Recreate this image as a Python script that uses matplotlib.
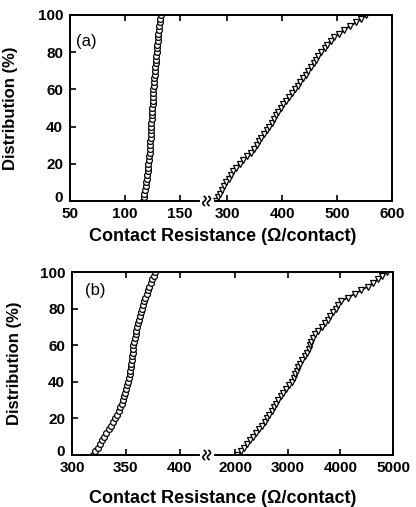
import numpy as np
import matplotlib
matplotlib.use("Agg")
import matplotlib.pyplot as plt
import matplotlib.transforms as mtransforms

plt.rcParams['font.family'] = ['Liberation Sans', 'DejaVu Sans']

# ---- data ----------------------------------------------------------------
pct = [0, 2, 4, 6, 8, 10, 12, 14, 16, 18, 20, 22, 24, 26, 28, 30, 32, 34, 36,
       38, 40, 42, 44, 46, 48, 50, 52, 54, 56, 58, 60, 62, 64, 66, 68, 70, 72,
       74, 76, 78, 80, 82, 84, 86, 88, 90, 92, 94, 96, 98, 100]

# panel (a)
a_circ_x = [116.5, 117.2, 117.8, 118.2, 118.9, 119.4, 119.8, 120.3, 120.8,
            121.2, 121.5, 121.8, 122.1, 122.5, 122.8, 123.0, 123.2, 123.4,
            123.6, 123.8, 124.0, 124.2, 124.4, 124.6, 124.8, 125.0, 125.2,
            125.4, 125.6, 125.8, 126.0, 126.3, 126.6, 126.9, 127.2, 127.5,
            127.8, 128.1, 128.4, 128.7, 129.0, 129.3, 129.6, 129.9, 130.2,
            130.5, 130.9, 131.3, 131.7, 132.1, 132.5]
a_tri_x = [279, 283, 287, 291, 294, 298, 302, 306, 311, 316, 322, 329, 336,
           343, 348, 353, 358, 362, 367, 372, 376, 381, 385, 389, 393, 398,
           402, 407, 412, 418, 423, 428, 433, 438, 443, 447, 452, 457, 461,
           466, 471, 477, 482, 488, 495, 504, 513, 523, 535, 544, 552]

# panel (b)
b_circ_x = [319.5, 321.5, 323.7, 326, 328, 330, 332, 334, 336, 338, 340, 342,
            343.5, 345, 346.3, 347.5, 348.5, 349.5, 350.5, 351.4, 352.2,
            352.8, 353.5, 354, 354.6, 355, 355.4, 355.8, 356.2, 356.6, 357,
            357.6, 358.3, 359, 359.8, 360.5, 361.3, 362.1, 362.9, 363.8,
            364.6, 365.5, 366.5, 367.8, 369.2, 370.5, 371.8, 373.2, 374.5,
            375.8, 377]
b_tri_x = [2040, 2110, 2170, 2230, 2285, 2340, 2400, 2455, 2505, 2560, 2600,
           2640, 2690, 2730, 2770, 2810, 2865, 2915, 2970, 3025, 3070, 3110,
           3140, 3170, 3200, 3235, 3275, 3320, 3360, 3395, 3420, 3445, 3480,
           3520, 3580, 3640, 3700, 3760, 3810, 3860, 3910, 3960, 4010, 4140,
           4270, 4390, 4520, 4620, 4710, 4800, 4880]

a_ticks = [50, 100, 150, 300, 400, 500, 600]
b_ticks = [300, 350, 400, 2000, 3000, 4000, 5000]
y_ticks = [0, 20, 40, 60, 80, 100]

XLABEL = "Contact Resistance (\u03a9/contact)"
YLABEL = "Distribution (%)"


def break_scale(lo_end, hi_start, ratio):
    """piecewise linear axis: [.., lo_end] normal, [hi_start, ..] compressed"""
    def fwd(x):
        x = np.asarray(x, dtype=float)
        return np.where(x <= lo_end, x,
                        np.where(x >= hi_start, lo_end + (x - hi_start) * ratio, lo_end))

    def inv(y):
        y = np.asarray(y, dtype=float)
        return np.where(y <= lo_end, y, hi_start + (y - lo_end) / ratio)
    return fwd, inv


def draw_break(ax, fwd, brk, xmin, xmax, w_px, h_px):
    fb = float((fwd(brk) - fwd(xmin)) / (fwd(xmax) - fwd(xmin)))
    # white gap in bottom spine
    ax.plot([fb - 2 / w_px, fb + 8 / w_px], [0, 0], color='white', lw=3,
            transform=ax.transAxes, clip_on=False, zorder=5)
    t = np.linspace(-1, 1, 25)
    for dx in (0, 4.5):
        xs = fb + (dx + 1.6 * np.sin(np.pi * t)) / w_px
        ys = (4.5 * t) / h_px
        ax.plot(xs, ys, color='black', lw=1.2, transform=ax.transAxes,
                clip_on=False, zorder=6)


def style_panel(ax, ticks, xlim, label, lab_pos, ylab_x, xlab_pos):
    ax.set_xlim(*xlim)
    ax.set_ylim(0, 100)
    ax.set_xticks(ticks)
    ax.set_xticklabels([str(t) for t in ticks], fontweight='bold')
    ax.set_yticks(y_ticks)
    ax.set_yticklabels([str(t) for t in y_ticks], fontweight='bold')
    ax.minorticks_off()
    ax.tick_params(direction='in', top=True, right=False, length=4, width=1.2,
                   labelsize=11, pad=3)
    ax.tick_params(axis='x', pad=4)
    ax.tick_params(axis='y', pad=5)
    # nudge the "0" label up a little, as in the original
    off = mtransforms.ScaledTranslation(0, 3 / 72, ax.figure.dpi_scale_trans)
    lbl0 = ax.get_yticklabels()[0]
    lbl0.set_transform(lbl0.get_transform() + off)
    for s in ax.spines.values():
        s.set_linewidth(1.4)
    ax.set_ylabel(YLABEL, fontsize=12, fontweight='bold')
    ax.yaxis.set_label_coords(ylab_x, 0.5)
    ax.set_xlabel(XLABEL, fontsize=13, fontweight='bold')
    ax.xaxis.set_label_coords(*xlab_pos)
    ax.text(lab_pos[0], lab_pos[1], label, transform=ax.transAxes,
            fontsize=12, va='center', ha='left')


fig = plt.figure(figsize=(4.16, 5.07), dpi=100)
ax_a = fig.add_axes([70 / 416, 1 - 201 / 507, 322 / 416, 186 / 507])
ax_b = fig.add_axes([72 / 416, 1 - 455 / 507, 321 / 416, 183 / 507])

fa = break_scale(172.5, 258, 0.5)
fb_ = break_scale(423, 1412, 0.0488)
ax_a.set_xscale('function', functions=fa)
ax_b.set_xscale('function', functions=fb_)

mk = dict(color='black', lw=1.2, markerfacecolor='white', markeredgecolor='black',
          markeredgewidth=0.9)
ax_a.plot(a_circ_x, pct, marker='o', markersize=4.2, **mk)
ax_a.plot(a_tri_x, pct, marker='v', markersize=4.5, **mk)
ax_b.plot(b_circ_x, pct, marker='o', markersize=4.2, **mk)
ax_b.plot(b_tri_x, pct, marker='v', markersize=4.5, **mk)

style_panel(ax_a, a_ticks, (50, 600), "(a)", (0.02, 0.855), -0.16, (0.475, -0.145))
style_panel(ax_b, b_ticks, (300, 5000), "(b)", (0.04, 0.90), -0.156, (0.47, -0.19))

draw_break(ax_a, fa[0], 172.5, 50, 600, 322, 186)
draw_break(ax_b, fb_[0], 423, 300, 5000, 321, 183)

fig.savefig("out.png", dpi=100)
